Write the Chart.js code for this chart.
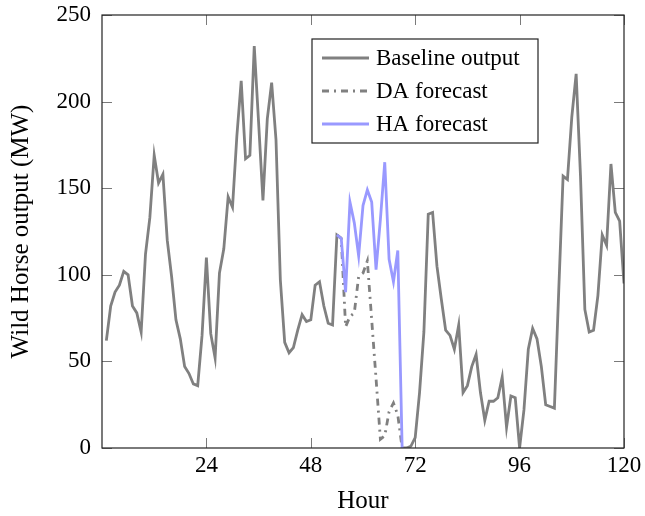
<!DOCTYPE html>
<html>
<head>
<meta charset="utf-8">
<script src="https://cdn.jsdelivr.net/npm/chart.js@4"></script>
<style>
  html, body { margin: 0; padding: 0; background: #fff; }
  #wrap { width: 645px; height: 516px; position: relative; }
</style>
</head>
<body>
<div id="wrap"><canvas id="chart"></canvas></div>
<script>
// Saatlik değerler (MW)
const hours = [];
for (let h = 1; h <= 120; h++) hours.push(h);

const baseline = [
  62, 82, 90, 94, 102, 100, 82, 78, 67, 112,
  133, 169, 153, 158, 120, 99, 74, 63, 47, 43,
  37, 36, 65, 110, 66, 52, 101, 115, 145, 139,
  180, 212, 167, 169, 232, 188, 143, 190, 211, 178,
  97, 61, 55, 58, 68, 77, 73, 74, 94, 96,
  82, 72, 71, 123, 121, null, null, null, null, null,
  null, null, null, null, null, null, null, null, 0, 0,
  1, 6, 32, 67, 135, 136, 105, 86, 68, 65,
  57, 71, 32, 36, 47, 54, 32, 16, 27, 27,
  29, 41, 12, 30, 29, 0, 22, 57, 69, 63,
  47, 25, 24, 23, 91, 157, 155, 191, 216, 157,
  80, 67, 68, 88, 123, 117, 164, 136, 131, 95
];

const forecastHours = [54, 55, 56, 57, 58, 59, 60, 61, 62, 63, 64, 65, 66, 67, 68, 69];
const daForecast = [123, 121, 70, 76, 78, 99, 101, 108, 74, 40, 5, 7, 21, 26, 19, 0];
const haForecast = [123, 121, 90, 142, 130, 111, 140, 149, 142, 103, 132, 165, 109, 96, 114, 0];

const xTicks = [24, 48, 72, 96, 120];
const yTicks = [0, 50, 100, 150, 200, 250];

const SERIF = "'Liberation Serif', 'Times New Roman', serif";

const toPoints = (xs, ys) => xs.map((x, i) => ({ x: x, y: ys[i] }));

// Çerçeve + içe dönük tick çizgileri (pgfplots tarzı)
const frameTicks = {
  id: 'frameTicks',
  afterDatasetsDraw(chart) {
    const { ctx, chartArea: a, scales } = chart;
    const len = 10;
    ctx.save();
    ctx.strokeStyle = '#7a7a7a';
    ctx.lineWidth = 1;
    ctx.beginPath();
    xTicks.forEach(v => {
      const px = Math.round(scales.x.getPixelForValue(v)) + 0.5;
      ctx.moveTo(px, a.bottom); ctx.lineTo(px, a.bottom - len);
      ctx.moveTo(px, a.top); ctx.lineTo(px, a.top + len);
    });
    yTicks.forEach(v => {
      const py = Math.round(scales.y.getPixelForValue(v)) + 0.5;
      ctx.moveTo(a.left, py); ctx.lineTo(a.left + len, py);
      ctx.moveTo(a.right, py); ctx.lineTo(a.right - len, py);
    });
    ctx.stroke();
    ctx.strokeStyle = '#222';
    ctx.lineWidth = 1.2;
    ctx.strokeRect(a.left, a.top, a.right - a.left, a.bottom - a.top);
    ctx.restore();
  }
};

// Grafik içindeki lejant kutusu
const boxLegend = {
  id: 'boxLegend',
  afterDraw(chart) {
    const { ctx, chartArea: a } = chart;
    const bx = a.left + 210, by = a.top + 24, bw = 226, bh = 104;
    ctx.save();
    ctx.fillStyle = '#fff';
    ctx.fillRect(bx, by, bw, bh);
    ctx.strokeStyle = '#222';
    ctx.lineWidth = 1.2;
    ctx.strokeRect(bx, by, bw, bh);
    ctx.font = "23px " + SERIF;
    ctx.textBaseline = 'middle';
    ctx.fillStyle = '#000';
    chart.data.datasets.forEach((ds, i) => {
      const y = by + 19 + i * 33;
      ctx.beginPath();
      ctx.strokeStyle = ds.borderColor;
      ctx.lineWidth = ds.borderWidth;
      ctx.setLineDash(ds.borderDash || []);
      ctx.moveTo(bx + 10, y);
      ctx.lineTo(bx + 57, y);
      ctx.stroke();
      ctx.setLineDash([]);
      ctx.fillText(ds.label, bx + 64, y + 1);
    });
    ctx.restore();
  }
};

new Chart(document.getElementById('chart'), {
  type: 'line',
  data: {
    datasets: [
      { label: 'Baseline output', data: toPoints(hours, baseline), borderColor: '#808080', borderWidth: 2.8, order: 3 },
      { label: 'DA forecast', data: toPoints(forecastHours, daForecast), borderColor: '#808080', borderWidth: 2.8, borderDash: [7, 5, 2, 5], order: 2 },
      { label: 'HA forecast', data: toPoints(forecastHours, haForecast), borderColor: '#9999ff', borderWidth: 2.8, order: 1 }
    ]
  },
  options: {
    responsive: true, maintainAspectRatio: false, animation: false,
    layout: { padding: { top: 15, right: 21, left: 0, bottom: 0 } },
    elements: { point: { radius: 0 }, line: { tension: 0 } },
    plugins: { legend: { display: false }, tooltip: { enabled: false } },
    scales: {
      x: {
        type: 'linear', min: 0, max: 120,
        afterFit: s => { s.height = 68; s.paddingLeft = 0; s.paddingRight = 0; },
        afterBuildTicks: s => { s.ticks = xTicks.map(v => ({ value: v })); },
        grid: { display: false, drawTicks: false },
        border: { display: false },
        ticks: { color: '#000', font: { family: SERIF, size: 23 }, padding: 4, maxRotation: 0 },
        title: { display: true, text: 'Hour', color: '#000', font: { family: SERIF, size: 25 }, padding: { top: 0, bottom: 0 } }
      },
      y: {
        min: 0, max: 250,
        afterFit: s => { s.width = 102; s.paddingTop = 0; s.paddingBottom = 0; },
        afterBuildTicks: s => { s.ticks = yTicks.map(v => ({ value: v })); },
        grid: { display: false, drawTicks: false },
        border: { display: false },
        ticks: { color: '#000', font: { family: SERIF, size: 23 }, padding: 11 },
        title: { display: true, text: 'Wild Horse output (MW)', color: '#000', font: { family: SERIF, size: 25 }, padding: { top: 6, bottom: 0 } }
      }
    }
  },
  plugins: [frameTicks, boxLegend]
});
</script>
</body>
</html>
